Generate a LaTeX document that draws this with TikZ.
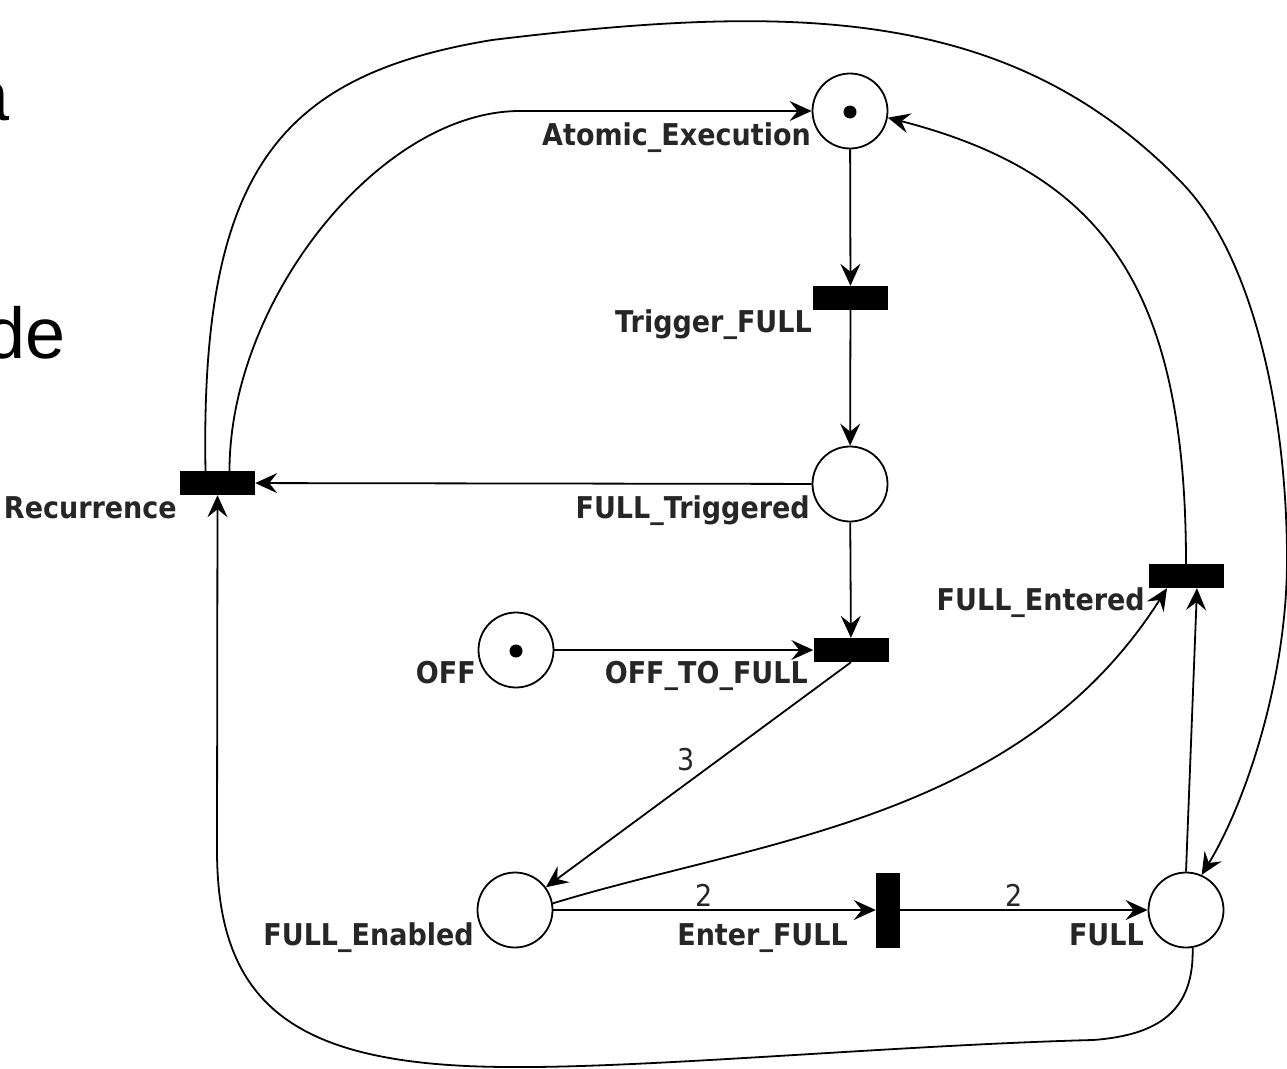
\documentclass[tikz,border=0pt]{standalone}
\usepackage{fontspec}
\setmainfont{Liberation Sans}
\newfontfamily\lblfont{DejaVu Sans}[FakeStretch=0.9]
\usetikzlibrary{arrows.meta}
\begin{document}
\begin{tikzpicture}[x=1pt,y=-1pt,
  place/.style={circle,draw,line width=1.8pt,minimum size=75pt,inner sep=0pt,fill=white},
  token/.style={circle,fill=black,minimum size=13pt,inner sep=0pt},
  trans/.style={rectangle,fill=black,minimum width=75pt,minimum height=24pt,inner sep=0pt},
  vtrans/.style={rectangle,fill=black,minimum width=24pt,minimum height=75pt,inner sep=0pt},
  lbl/.style={anchor=base east,inner sep=0pt,text=black!85,font=\lblfont\bfseries\fontsize{30}{30}\selectfont},
  wgt/.style={inner sep=0pt,text=black!85,font=\lblfont\fontsize{30}{30}\selectfont},
  arc/.style={line width=1.8pt,-{Stealth[length=22pt,width=20pt,inset=8pt]}},
  side/.style={anchor=base east,inner sep=0pt,font=\fontsize{72}{72}\selectfont}]
\useasboundingbox (0,0) rectangle (1287,1068);
\fill[white] (0,0) rectangle (1287,1068);
\clip (0,0) rectangle (1287,1068);

% fragments of surrounding slide text
\node[side] (sideA) at (10,120) {a};
\node[side] (sideB) at (66,358) {de};

% places
\node[place] (AE) at (850,111) {};
\node[token] (tAE) at (850,112) {};
\node[place] (FT) at (850,484) {};
\node[place] (OFF) at (516,650) {};
\node[token] (tOFF) at (516,651) {};
\node[place] (FE) at (515,910) {};
\node[place] (FULL) at (1186,910) {};

% transitions
\node[trans] (TF) at (850.5,298) {};
\node[trans] (Rec) at (217.5,483) {};
\node[trans] (OTF) at (851,650) {};
\node[vtrans] (EF) at (888,910) {};
\node[trans] (FEnt) at (1186,576) {};

% labels
\node[lbl] (lAE) at (811,145) {Atomic\_Execution};
\node[lbl] (lTF) at (812,332) {Trigger\_FULL};
\node[lbl] (lRec) at (177,518) {Recurrence};
\node[lbl] (lFT) at (810,518) {FULL\_Triggered};
\node[lbl] (lFEnt) at (1145,610) {FULL\_Entered};
\node[lbl] (lOFF) at (476,683) {OFF};
\node[lbl] (lOTF) at (808,683) {OFF\_TO\_FULL};
\node[lbl] (lFE) at (474,945) {FULL\_Enabled};
\node[lbl] (lEF) at (848,945) {Enter\_FULL};
\node[lbl] (lFULL) at (1144,945) {FULL};

% straight arcs
\draw[arc] (AE) -- (TF);
\draw[arc] (TF) -- (FT);
\draw[arc] (FT) -- (Rec);
\draw[arc] (FT) -- (OTF);
\draw[arc] (OFF) -- (OTF);
\draw[arc] (OTF.south) -- (FE);
\draw[arc] (FE) -- (EF);
\draw[arc] (EF) -- (FULL);
\draw[arc] (FULL.north) -- ([xshift=11pt]FEnt.south);

% arc weights
\node[wgt] (w3) at (686,760) {3};
\node[wgt] (w2a) at (704,895) {2};
\node[wgt] (w2b) at (1014,895) {2};

% curved arcs
\draw[arc] (FE.10) .. controls (760,840) and (1020,820) .. ([xshift=-19pt]FEnt.south);

\draw[arc] (FEnt.north) .. controls (1186,283) and (1100,172.5) .. (AE.-10);

\draw[arc] ([xshift=12pt]Rec.north) .. controls (229.5,300) and (380,111) .. (520,111)
  -- (AE.west);

\coordinate (o1) at (492,40);
\coordinate (o2) at (1183,184);
\coordinate (o3) at (1287,560);
\draw[arc] ([xshift=-12pt]Rec.north) .. controls (200,170) and (280,75) .. (o1)
  .. controls (790,4) and (1010,4) .. (o2)
  .. controls (1252,256) and (1287,410) .. (o3)
  .. controls (1287,680) and (1245,804) .. (FULL.66);

\coordinate (b1) at (1093,1040);
\coordinate (b2) at (513,1067);
\coordinate (b3) at (217,850);
\draw[arc] (FULL.-80) .. controls (1194,1010) and (1160,1035) .. (b1)
  .. controls (900,1045) and (650,1068) .. (b2)
  .. controls (300,1067) and (217,1010) .. (b3)
  -- (Rec.south);
\end{tikzpicture}
\end{document}
